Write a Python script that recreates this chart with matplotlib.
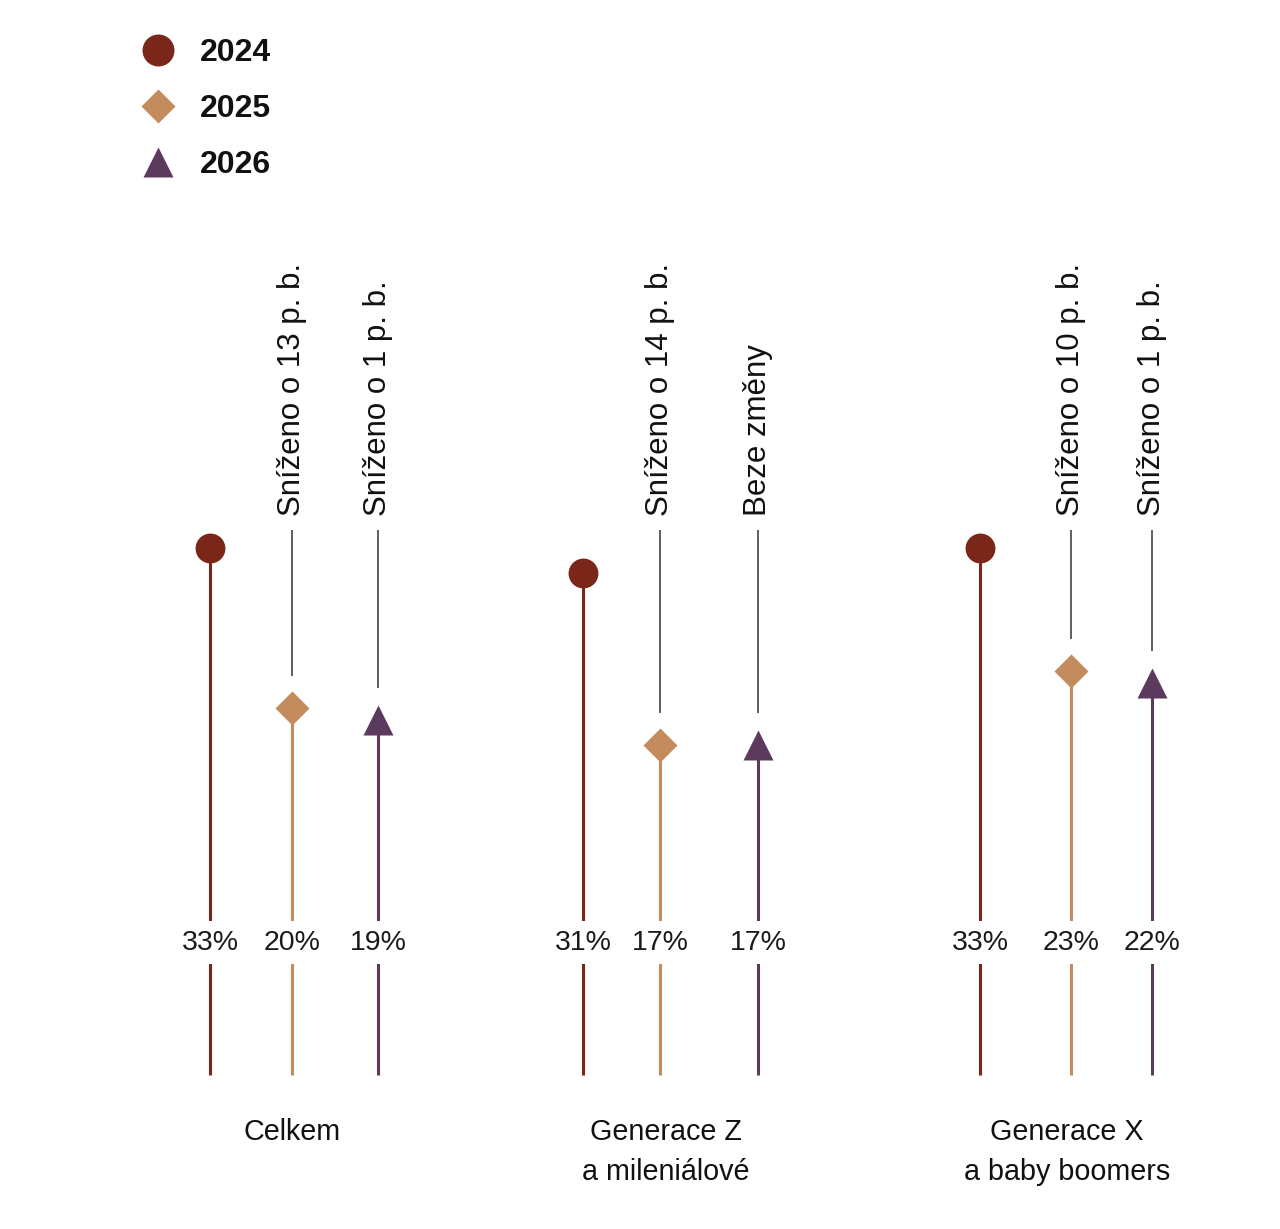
import numpy as np
import matplotlib.pyplot as plt
from matplotlib.lines import Line2D
from matplotlib.transforms import blended_transform_factory

plt.rcParams['font.family'] = ['Liberation Sans', 'DejaVu Sans']

# data
groups = ['Celkem', 'Generace Z\na mileniálové', 'Generace X\na baby boomers']
years = ['2024', '2025', '2026']
v2024 = [33, 31, 33]
v2025 = [20, 17, 23]
v2026 = [19, 17, 22]
notes2025 = ['Sníženo o 13 p. b.', 'Sníženo o 14 p. b.', 'Sníženo o 10 p. b.']
notes2026 = ['Sníženo o 1 p. b.', 'Beze změny', 'Sníženo o 1 p. b.']

# style / layout
colors = ['#7a2618', '#c48b5c', '#5c3a5e']
markers = ['o', 'D', '^']
msizes = [21.5, 17, 22]
xpos = [[210, 292, 378], [583, 660, 758], [980, 1071, 1152]]
group_x = [292, 666, 1067]
base = -9.8       # stem bottom
note_top = 34.45  # top of thin note lines
note_text_y = 35.6
gap = 2.6

fig = plt.figure(figsize=(12.8, 12.29), dpi=100)
ax = fig.add_axes([0, 0, 1, 1])
ax.set_xlim(0, 1280)
ax.set_ylim(-22.32, 77.52)
ax.axis('off')

series = [v2024, v2025, v2026]
for gi in range(len(groups)):
    for si in range(3):
        x = xpos[gi][si]
        v = series[si][gi]
        ax.vlines(x, base, v, color=colors[si], lw=2.2, zorder=1)
        ax.plot(x, v, marker=markers[si], ms=msizes[si], color=colors[si],
                mec='none', zorder=3)
        ax.text(x, 0.95, f'{v}%', ha='center', va='center', fontsize=20.5,
                color='#1a1a1a', zorder=4,
                bbox=dict(facecolor='white', edgecolor='none', pad=6))
    # change notes for 2025 and 2026
    for si, notes in ((1, notes2025), (2, notes2026)):
        x = xpos[gi][si]
        v = series[si][gi]
        ax.vlines(x, v + gap, note_top, color='#333333', lw=1.1)
        ax.text(x, note_text_y, notes[gi], rotation=90, ha='center',
                va='bottom', fontsize=22.5, color='#111111')

trans = blended_transform_factory(ax.transData, ax.transAxes)
for gi, g in enumerate(groups):
    ax.text(group_x[gi], 1 - 1118 / 1229, g, transform=trans, ha='center',
            va='top', fontsize=20.7, color='#111111', linespacing=1.55)

handles = [Line2D([], [], ls='none', marker=markers[i], color=colors[i],
                  mec='none', ms=[23, 17.5, 22][i]) for i in range(3)]
leg = ax.legend(handles, years, loc='upper left',
                bbox_to_anchor=(142 / 1280, 1 - 38 / 1229), frameon=False,
                borderpad=0, borderaxespad=0, handlelength=1.0,
                handletextpad=0.8, labelspacing=0.82,
                prop={'size': 23, 'weight': 'bold'})
for t in leg.get_texts():
    t.set_color('#111111')

fig.savefig('out.png', dpi=100, facecolor='white')
